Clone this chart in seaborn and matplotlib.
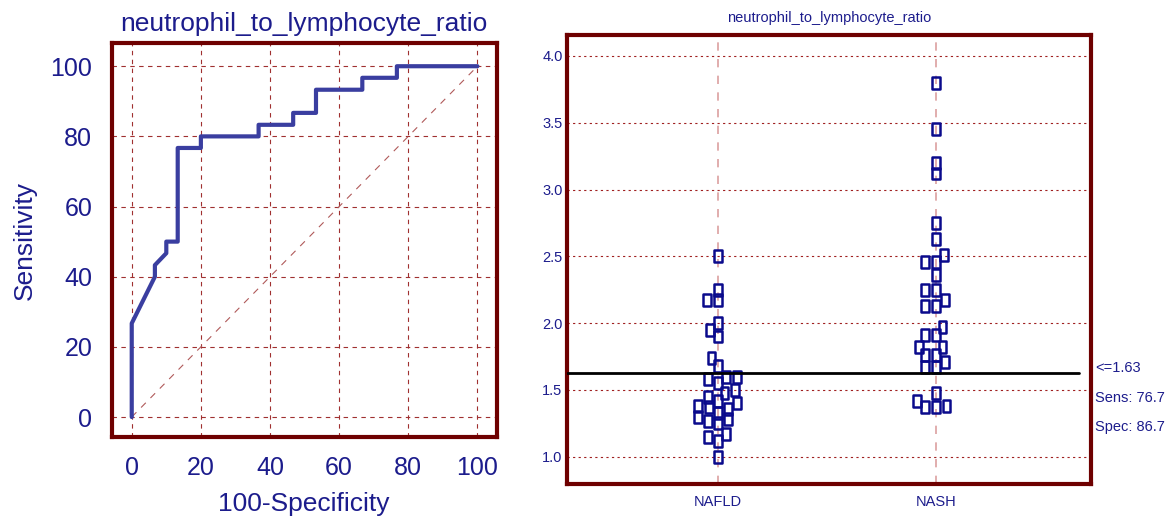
import numpy as np
import pandas as pd
import seaborn as sns
import matplotlib.pyplot as plt
from matplotlib.ticker import MultipleLocator
from matplotlib.path import Path
import matplotlib.transforms as mtransforms

# ROC curve points (100-Specificity, Sensitivity)
roc_fpr = [0, 0, 6.7, 6.7, 10.0, 10.0, 13.3, 13.3, 20.0, 20.0, 36.7, 36.7,
           46.7, 46.7, 53.3, 53.3, 66.7, 66.7, 76.7, 76.7, 100]
roc_tpr = [0, 26.7, 40.0, 43.3, 46.7, 50.0, 50.0, 76.7, 76.7, 80.0, 80.0, 83.3,
           83.3, 86.7, 86.7, 93.3, 93.3, 96.7, 96.7, 100, 100]

# dot plot values
nafld = [2.50, 2.25, 2.17, 2.17, 2.00, 1.95, 1.90, 1.74, 1.68, 1.60, 1.60, 1.58,
         1.55, 1.50, 1.48, 1.45, 1.42, 1.40, 1.38, 1.37, 1.36, 1.33, 1.30, 1.28,
         1.27, 1.25, 1.17, 1.15, 1.12, 1.00]
nash = [3.80, 3.45, 3.20, 3.12, 2.75, 2.63, 2.51, 2.46, 2.46, 2.36, 2.25, 2.25,
        2.17, 2.13, 2.13, 1.97, 1.91, 1.91, 1.82, 1.82, 1.76, 1.76, 1.71, 1.67,
        1.67, 1.48, 1.42, 1.38, 1.37, 1.37]
groups = ['NAFLD', 'NASH']
criterion = 1.63
sens = 76.7
spec = 86.7
var_name = 'neutrophil_to_lymphocyte_ratio'

sns.set_style('white')
plt.rcParams['font.family'] = ['Liberation Sans', 'DejaVu Sans']

frame = '#6e0000'
navy = '#1c1c8c'
small = 10.5

fig = plt.figure(figsize=(11.67, 5.19), dpi=100)
ax1 = fig.add_axes([0.0957, 0.158, 0.330, 0.759])
ax2 = fig.add_axes([0.4856, 0.0674, 0.449, 0.8652])

# ---- ROC curve
roc = pd.DataFrame({'fpr': roc_fpr, 'tpr': roc_tpr})
ax1.plot([0, 100], [0, 100], ls=(0, (6, 6)), color='#b05a5a', lw=0.8, zorder=1)
sns.lineplot(data=roc, x='fpr', y='tpr', sort=False, estimator=None,
             color='#3a3ea0', lw=3, ax=ax1, zorder=3)
ax1.set_xlim(-5.8, 105.6)
ax1.set_ylim(-5.7, 106.6)
ax1.xaxis.set_major_locator(MultipleLocator(20))
ax1.yaxis.set_major_locator(MultipleLocator(20))
ax1.xaxis.set_minor_locator(MultipleLocator(5))
ax1.yaxis.set_minor_locator(MultipleLocator(5))
ax1.grid(True, which='major', ls=(0, (4, 4)), color='#a03030', lw=0.8)
ax1.tick_params(which='major', direction='in', length=13, width=2.2, color=frame,
                labelsize=18, labelcolor=navy, pad=14)
ax1.tick_params(which='minor', direction='in', length=6, width=2.2, color=frame)
ax1.set_title(var_name, fontsize=19, color=navy, pad=9)
ax1.set_xlabel('100-Specificity', fontsize=19, color=navy, labelpad=8)
ax1.set_ylabel('Sensitivity', fontsize=19, color=navy, labelpad=10)
for sp in ax1.spines.values():
    sp.set_color(frame)
    sp.set_linewidth(3)

# ---- dot plot
df = pd.DataFrame({'group': ['NAFLD'] * len(nafld) + ['NASH'] * len(nash),
                   'value': nafld + nash})
rect = Path([(-0.33, -0.5), (0.33, -0.5), (0.33, 0.5), (-0.33, 0.5), (-0.33, -0.5)],
            [Path.MOVETO, Path.LINETO, Path.LINETO, Path.LINETO, Path.CLOSEPOLY])
# swarm with a small footprint so the boxes may overlap like the original
sns.swarmplot(data=df, x='group', y='value', order=groups, marker=rect, size=5.5,
              color=navy, linewidth=1.8, ax=ax2, zorder=4)

ax2.axhline(criterion, xmin=0, xmax=0.977, color='black', lw=2, zorder=5)
ax2.set_xlim(-0.694, 1.71)
ax2.set_ylim(0.796, 4.157)
ax2.yaxis.set_major_locator(MultipleLocator(0.5))
ax2.yaxis.set_minor_locator(MultipleLocator(0.1))
ax2.yaxis.set_major_formatter(lambda v, p: f'{v:.1f}')
ax2.grid(True, axis='y', which='major', ls=(0, (2, 3)), color='#a02020', lw=0.8)
ax2.grid(True, axis='x', which='major', ls=(0, (5, 5)), color='#dca0a0', lw=1.2)
ax2.tick_params(axis='y', which='major', direction='in', length=9, width=2.2,
                color=frame, labelsize=small, labelcolor=navy, pad=3)
ax2.tick_params(axis='y', which='minor', direction='in', length=5, width=2.2, color=frame)
ax2.tick_params(axis='x', length=0, labelsize=small, labelcolor=navy, pad=8)
ax2.set_xlabel('')
ax2.set_ylabel('')
ax2.set_title(var_name, fontsize=small, color=navy, pad=9)
for sp in ax2.spines.values():
    sp.set_color(frame)
    sp.set_linewidth(3)

trans = mtransforms.blended_transform_factory(ax2.transAxes, ax2.transData)
ax2.annotate(f'<={criterion:.2f}', xy=(1, criterion), xycoords=trans,
             xytext=(3, 3), textcoords='offset points', va='center', ha='left',
             fontsize=small, color=navy)
ax2.annotate(f'Sens: {sens:.1f}', xy=(1, criterion), xycoords=trans,
             xytext=(3, -18), textcoords='offset points', va='center', ha='left',
             fontsize=small, color=navy)
ax2.annotate(f'Spec: {spec:.1f}', xy=(1, criterion), xycoords=trans,
             xytext=(3, -39), textcoords='offset points', va='center', ha='left',
             fontsize=small, color=navy)

# lay out the swarm once, then freeze it and enlarge the boxes
fig.canvas.draw()
for coll in ax2.collections:
    if 'draw' in coll.__dict__:
        del coll.draw
    coll.set_sizes([8.6 ** 2])
    coll.set_facecolor('none')
    coll.set_edgecolor('#0a0a8c')
    coll.set_linewidth(1.8)

fig.savefig('out.png', dpi=100)
